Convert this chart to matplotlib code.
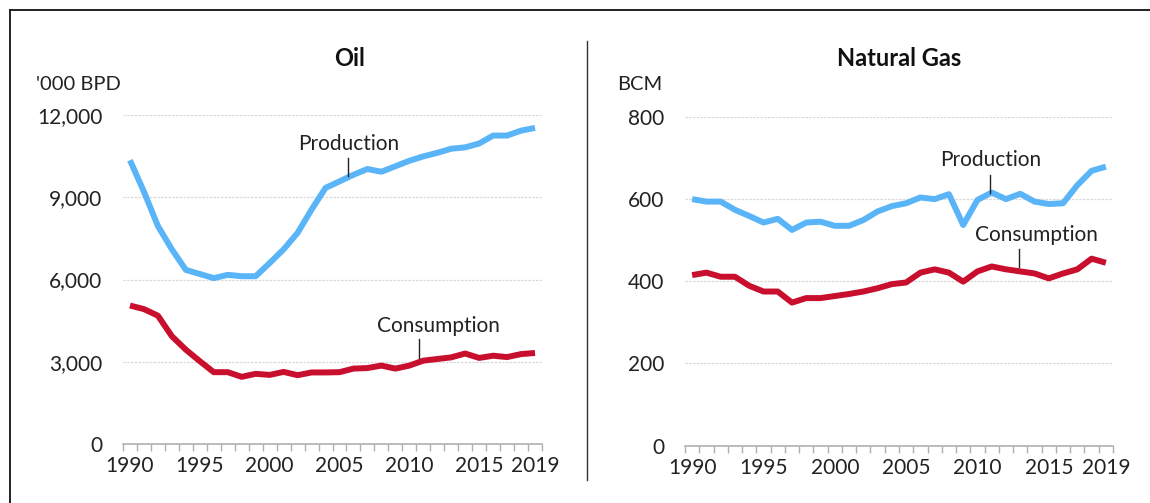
import matplotlib
matplotlib.use("Agg")
import matplotlib.pyplot as plt
from matplotlib.lines import Line2D
import numpy as np

years = list(range(1990, 2020))
oil_production = [10350, 9200, 7950, 7100, 6350, 6200, 6050, 6170, 6120, 6120,
                  6600, 7100, 7700, 8550, 9340, 9580, 9820, 10030, 9930, 10130,
                  10330, 10490, 10620, 10770, 10820, 10960, 11250, 11250, 11430, 11530]
oil_consumption = [5050, 4920, 4680, 3930, 3440, 3020, 2620, 2620, 2450, 2560,
                   2520, 2630, 2510, 2610, 2610, 2620, 2750, 2770, 2860, 2750,
                   2860, 3040, 3100, 3160, 3300, 3140, 3220, 3170, 3280, 3320]
gas_production = [600, 594, 594, 574, 559, 543, 552, 525, 543, 545,
                  535, 535, 549, 570, 583, 590, 604, 600, 612, 537,
                  598, 616, 600, 613, 594, 588, 590, 634, 669, 679]
gas_consumption = [415, 421, 411, 411, 389, 375, 375, 348, 359, 359,
                   364, 369, 375, 383, 393, 397, 421, 429, 421, 399,
                   424, 436, 429, 424, 419, 407, 419, 429, 455, 445]
xtick_years = [1990, 1995, 2000, 2005, 2010, 2015, 2019]
oil_yticks = [0, 3000, 6000, 9000, 12000]
gas_yticks = [0, 200, 400, 600, 800]

BLUE = "#5AB4F8"
RED = "#C8102E"
FONT = "Lato"
plt.rcParams['font.family'] = [FONT, 'DejaVu Sans']
TICK_FS = 15
ANN_FS = 15
UNIT_FS = 14.5
TITLE_FS = 17

W, H = 1150, 503
fig = plt.figure(figsize=(W / 100, H / 100), dpi=100)

def fx(px):
    return px / W

def fy(py):
    return 1 - py / H

def make_axes(left, right, bottom, top, prod, cons, yticks, fmt, title, unit,
              unit_x, title_x, annots):
    ax = fig.add_axes([fx(left), fy(bottom), fx(right) - fx(left), fy(top) - fy(bottom)])
    idx = np.arange(len(years))
    ax.plot(idx, prod, color=BLUE, lw=4.3, solid_joinstyle='round', solid_capstyle='butt', zorder=3)
    ax.plot(idx, cons, color=RED, lw=4.3, solid_joinstyle='round', solid_capstyle='butt', zorder=3)
    ax.set_xlim(-0.5, len(years) - 0.5)
    ax.set_ylim(yticks[0], yticks[-1])
    ax.set_yticks(yticks)
    ax.set_yticklabels([fmt(v) for v in yticks], fontsize=TICK_FS, color="#222222")
    ax.tick_params(axis='y', length=0, pad=15)
    ax.grid(axis='y', color="#d9d9d9", lw=0.9, ls=(0, (2, 1)))
    for s in ['left', 'right', 'top']:
        ax.spines[s].set_visible(False)
    ax.spines['bottom'].set_color("#b0b0b0")
    ax.spines['bottom'].set_linewidth(1.2)
    ax.set_xticks([years.index(y) for y in xtick_years])
    ax.set_xticklabels([str(y) for y in xtick_years], fontsize=TICK_FS, color="#222222")
    ax.set_xticks(np.arange(-0.5, len(years), 1.0), minor=True)
    ax.tick_params(axis='x', which='major', length=0, pad=9)
    ax.tick_params(axis='x', which='minor', length=5, color="#b0b0b0", width=1.0, direction='out')
    fig.text(fx(title_x), fy(58), title, ha='center', va='center', fontsize=TITLE_FS,
             fontweight='bold', color="#111111")
    fig.text(fx(unit_x), fy(84), unit, ha='left', va='center', fontsize=UNIT_FS, color="#222222")
    for txt, tx, ty, lx, ly0, ly1 in annots:
        fig.text(fx(tx), fy(ty), txt, ha='center', va='center', fontsize=ANN_FS, color="#222222")
        fig.add_artist(Line2D([fx(lx), fx(lx)], [fy(ly0), fy(ly1)], color="#222222", lw=1.0))
    return ax

make_axes(123, 542, 444, 115, oil_production, oil_consumption, oil_yticks,
          lambda v: f"{v:,}", "Oil", "'000 BPD", 36, 350,
          [("Production", 349, 144, 348, 158, 176),
           ("Consumption", 438, 326, 419, 339, 358)])
make_axes(685, 1113, 445.5, 117, gas_production, gas_consumption, gas_yticks,
          lambda v: f"{v}", "Natural Gas", "BCM", 617, 899,
          [("Production", 991, 160, 990, 175, 193),
           ("Consumption", 1036, 235, 1019, 249, 267)])

# separator and frame
fig.add_artist(Line2D([fx(587), fx(587)], [fy(41), fy(480)], color="#333333", lw=1.0))
fig.add_artist(Line2D([fx(9.5), fx(9.5)], [fy(9.5), fy(503)], color="#222222", lw=1.4))
fig.add_artist(Line2D([fx(9.5), fx(1150)], [fy(9.5), fy(9.5)], color="#222222", lw=1.4))

fig.savefig("out.png", dpi=100)
